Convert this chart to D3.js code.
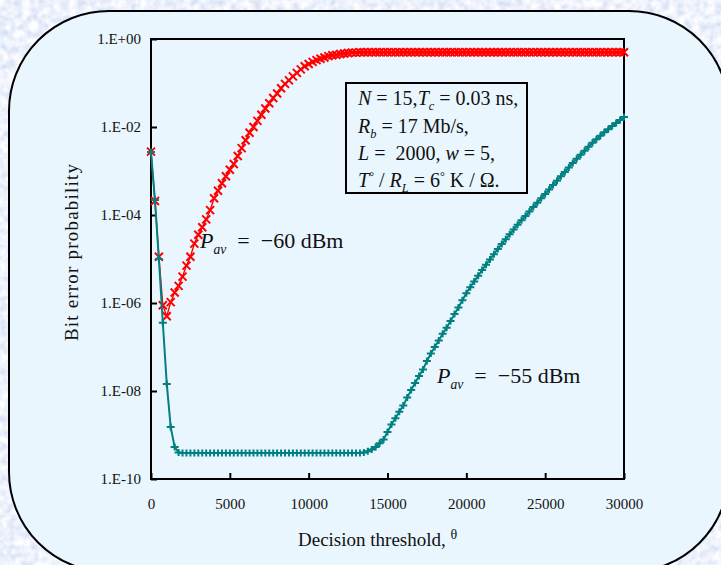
<!DOCTYPE html>
<html>
<head>
<meta charset="utf-8">
<script src="https://cdn.jsdelivr.net/npm/d3@7"></script>
<style>
  body { margin: 0; background: #d6e4f6; }
  svg { display: block; font-family: "Liberation Serif", "Times New Roman", serif; }
</style>
</head>
<body>
<svg id="chart" width="721" height="565"></svg>
<script>
// x grid: decision threshold, sampled every 250
const theta = d3.range(0, 30001, 250);

// log10 of bit error probability, Pav = -60 dBm (red x)
const logBer60 = [
    -2.56, -3.68, -4.95, -6.05, -6.30, -5.98, -5.76, -5.61, -5.40, -5.15,
    -4.95, -4.65, -4.45, -4.28, -4.10, -3.89, -3.62, -3.45, -3.28, -3.12,
    -2.97, -2.84, -2.66, -2.48, -2.30, -2.13, -2.00, -1.86, -1.72, -1.58,
    -1.46, -1.34, -1.24, -1.12, -1.02, -0.94, -0.85, -0.77, -0.69, -0.62,
    -0.57, -0.52, -0.48, -0.45, -0.42, -0.39, -0.37, -0.36, -0.34, -0.33,
    -0.32, -0.31, -0.31, -0.30, -0.30, -0.30, -0.30, -0.30, -0.30, -0.30,
    -0.30, -0.30, -0.30, -0.30, -0.30, -0.30, -0.30, -0.30, -0.30, -0.30,
    -0.30, -0.30, -0.30, -0.30, -0.30, -0.30, -0.30, -0.30, -0.30, -0.30,
    -0.30, -0.30, -0.30, -0.30, -0.30, -0.30, -0.30, -0.30, -0.30, -0.30,
    -0.30, -0.30, -0.30, -0.30, -0.30, -0.30, -0.30, -0.30, -0.30, -0.30,
    -0.30, -0.30, -0.30, -0.30, -0.30, -0.30, -0.30, -0.30, -0.30, -0.30,
    -0.30, -0.30, -0.30, -0.30, -0.30, -0.30, -0.30, -0.30, -0.30, -0.30,
    -0.30
];

// log10 of bit error probability, Pav = -55 dBm (teal +)
const logBer55 = [
    -2.57, -3.66, -5.00, -6.45, -7.84, -8.82, -9.27, -9.40, -9.41, -9.41,
    -9.41, -9.41, -9.41, -9.41, -9.41, -9.41, -9.41, -9.41, -9.41, -9.41,
    -9.41, -9.41, -9.41, -9.41, -9.41, -9.41, -9.41, -9.41, -9.41, -9.41,
    -9.41, -9.41, -9.41, -9.41, -9.41, -9.41, -9.41, -9.41, -9.41, -9.41,
    -9.41, -9.41, -9.41, -9.41, -9.41, -9.41, -9.41, -9.41, -9.41, -9.41,
    -9.41, -9.41, -9.41, -9.41, -9.40, -9.37, -9.33, -9.27, -9.19, -9.10,
    -8.93, -8.76, -8.62, -8.47, -8.33, -8.15, -7.98, -7.82, -7.66, -7.51,
    -7.32, -7.15, -7.00, -6.85, -6.70, -6.56, -6.41, -6.25, -6.10, -5.94,
    -5.78, -5.64, -5.51, -5.38, -5.25, -5.13, -5.01, -4.89, -4.77, -4.66,
    -4.55, -4.44, -4.33, -4.22, -4.12, -4.02, -3.92, -3.82, -3.72, -3.62,
    -3.52, -3.42, -3.32, -3.22, -3.12, -3.02, -2.92, -2.82, -2.72, -2.63,
    -2.54, -2.45, -2.36, -2.28, -2.20, -2.12, -2.05, -1.98, -1.91, -1.84,
    -1.77
];

const xTicks = [0, 5000, 10000, 15000, 20000, 25000, 30000];
const yTicks = [1, 1e-2, 1e-4, 1e-6, 1e-8, 1e-10];

const svg = d3.select('#chart');
const width = +svg.attr('width');
const height = +svg.attr('height');
const margin = { top: 39, right: 96, bottom: 86, left: 151 };

// textured backdrop
const defs = svg.append('defs');
const marble = defs.append('filter')
    .attr('id', 'marble')
    .attr('x', 0).attr('y', 0).attr('width', '100%').attr('height', '100%');
marble.append('feTurbulence')
    .attr('type', 'fractalNoise')
    .attr('baseFrequency', 0.13)
    .attr('numOctaves', 2)
    .attr('seed', 4);
marble.append('feColorMatrix')
    .attr('type', 'matrix')
    .attr('values', '0.6 0 0 0 0.55  0.45 0 0 0 0.66  0.2 0 0 0 0.87  0 0 0 0 1');

svg.append('rect')
    .attr('width', width)
    .attr('height', height)
    .attr('filter', 'url(#marble)');

svg.append('rect')
    .attr('x', 9).attr('y', 11)
    .attr('width', 720).attr('height', 561)
    .attr('rx', 100).attr('ry', 100)
    .style('fill', '#e9f6fe')
    .style('stroke', '#000')
    .style('stroke-width', 2);

const x = d3.scaleLinear()
    .domain([0, 30000])
    .range([margin.left, width - margin.right - 1]);
const y = d3.scaleLog()
    .domain([1e-10, 1])
    .range([height - margin.bottom, margin.top]);

const expFormat = (d) => {
    const e = Math.round(Math.log10(d));
    return '1.E' + (e < 0 ? '-' : '+') + String(Math.abs(e)).padStart(2, '0');
};

const xAxis = svg.append('g')
    .attr('transform', `translate(0,${y(1e-10)})`)
    .call(d3.axisBottom(x).tickValues(xTicks).tickSize(-6).tickPadding(19).tickFormat(d3.format('d')));
const yAxis = svg.append('g')
    .attr('transform', `translate(${x(0)},0)`)
    .call(d3.axisLeft(y).tickValues(yTicks).tickSize(-6).tickPadding(10).tickFormat(expFormat));

[xAxis, yAxis].forEach((g) => {
    g.select('.domain').remove();
    g.selectAll('.tick line').style('stroke', '#000').style('stroke-width', 2);
    g.selectAll('.tick text')
        .style('font-family', '"Liberation Serif", "Times New Roman", serif')
        .style('font-size', '15px')
        .style('fill', '#111');
});

// plot frame
svg.append('rect')
    .attr('x', x(0)).attr('y', y(1))
    .attr('width', x(30000) - x(0))
    .attr('height', y(1e-10) - y(1))
    .style('fill', 'none')
    .style('stroke', '#000')
    .style('stroke-width', 2);

const line = d3.line()
    .x((d) => x(d.t))
    .y((d) => y(d.p));

const toSeries = (logs) => logs.map((v, i) => ({ t: theta[i], p: Math.pow(10, v) }));

const series = [
    { data: toSeries(logBer60), color: '#ff0000', lineWidth: 1.4, marker: 'M-4,-4L4,4M4,-4L-4,4' },
    { data: toSeries(logBer55), color: '#008080', lineWidth: 2, marker: 'M-4,0H4M0,-3.5V3.5' }
];

series.forEach((s) => {
    const g = svg.append('g').attr('class', 'series');
    g.append('path')
        .datum(s.data)
        .attr('d', line)
        .style('fill', 'none')
        .style('stroke', s.color)
        .style('stroke-width', s.lineWidth);
    g.selectAll('path.mark')
        .data(s.data)
        .enter()
        .append('path')
        .attr('class', 'mark')
        .attr('transform', (d) => `translate(${x(d.t)},${y(d.p)})`)
        .attr('d', s.marker)
        .style('fill', 'none')
        .style('stroke', s.color)
        .style('stroke-width', 2);
});

// axis titles
svg.append('text')
    .attr('transform', `translate(78,252) rotate(-90)`)
    .attr('text-anchor', 'middle')
    .style('font-size', '19px')
    .style('letter-spacing', '1.2px')
    .style('fill', '#111')
    .text('Bit error probability');

const xTitle = svg.append('text')
    .attr('x', 298)
    .attr('y', 546)
    .style('font-size', '19px')
    .style('fill', '#111');
xTitle.append('tspan').text('Decision threshold, ');
xTitle.append('tspan').attr('dy', -7).style('font-size', '14px').text('θ');

// parameter box
svg.append('rect')
    .attr('x', 346).attr('y', 83)
    .attr('width', 181).attr('height', 110)
    .style('fill', 'none')
    .style('stroke', '#000')
    .style('stroke-width', 2);

const boxLines = [
    [['N', 'i'], [' = 15,'], ['T', 'i'], ['c', 'sub'], [' = 0.03 ns,']],
    [['R', 'i'], ['b', 'sub'], [' = 17 Mb/s,']],
    [['L', 'i'], [' =  2000, '], ['w', 'i'], [' = 5,']],
    [['T', 'i'], ['°', 'sup'], [' / '], ['R', 'i'], ['L', 'sub'], [' = 6'], ['°', 'sup'], [' K / Ω.']]
];
const boxBaselines = [105, 133, 160, 187];

const addRich = (parent, parts, size) => {
    let shift = 0;
    parts.forEach(([str, kind]) => {
        const ts = parent.append('tspan').text(str);
        let target = 0;
        if (kind === 'sub') { target = size * 0.25; ts.style('font-size', `${size * 0.62}px`).style('font-style', 'italic'); }
        if (kind === 'sup') { target = -size * 0.35; ts.style('font-size', `${size * 0.6}px`); }
        if (kind === 'i') ts.style('font-style', 'italic');
        ts.attr('dy', target - shift);
        shift = target;
    });
};

boxLines.forEach((parts, i) => {
    const t = svg.append('text')
        .attr('x', 358)
        .attr('y', boxBaselines[i])
        .style('font-size', '20px')
        .style('fill', '#111')
        .style('white-space', 'pre');
    addRich(t, parts, 20);
});

// curve labels
const curveLabels = [
    { x: 200, y: 248, parts: [['P', 'i'], ['av', 'sub'], ['  =  −60 dBm']] },
    { x: 437, y: 383, parts: [['P', 'i'], ['av', 'sub'], ['  =  −55 dBm']] }
];
curveLabels.forEach((c) => {
    const t = svg.append('text')
        .attr('x', c.x)
        .attr('y', c.y)
        .style('font-size', '22px')
        .style('fill', '#111')
        .style('white-space', 'pre');
    addRich(t, c.parts, 22);
});
</script>
</body>
</html>
